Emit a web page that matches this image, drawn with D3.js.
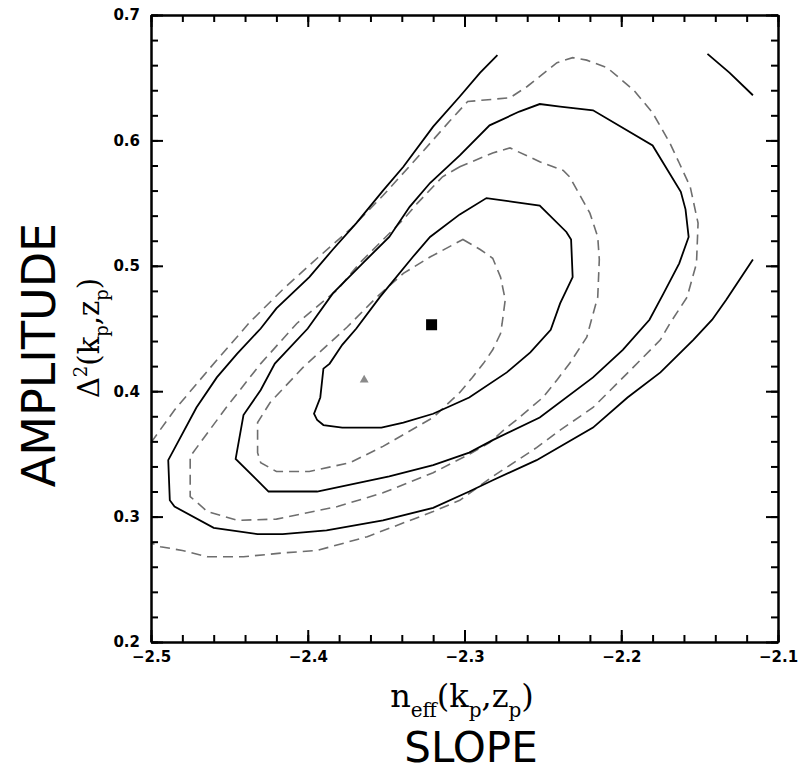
<!DOCTYPE html>
<html>
<head>
<meta charset="utf-8">
<script src="https://cdn.jsdelivr.net/npm/d3@7"></script>
<style>
  body { margin: 0; background: #fff; }
  .tick text { font-family: "DejaVu Sans", sans-serif; font-weight: bold; font-size: 15px; fill: #000; }
</style>
</head>
<body>
<div id="chart"></div>
<script>
// Chart data (slope, amplitude)
const xMajorTicks = [-2.5, -2.4, -2.3, -2.2, -2.1];
const yMajorTicks = [0.2, 0.3, 0.4, 0.5, 0.6, 0.7];

const bestFit = [-2.321, 0.453];   // black square
const altFit = [-2.364, 0.409];    // grey triangle

// solid contours
const solidInner = [
  [-2.303, 0.541], [-2.322, 0.523], [-2.333, 0.507], [-2.354, 0.475], [-2.369, 0.450],
  [-2.378, 0.437], [-2.386, 0.422], [-2.390, 0.418], [-2.392, 0.395], [-2.396, 0.382],
  [-2.394, 0.377], [-2.390, 0.373], [-2.378, 0.371], [-2.353, 0.371], [-2.339, 0.375],
  [-2.320, 0.382], [-2.297, 0.395], [-2.273, 0.415], [-2.258, 0.431], [-2.245, 0.449],
  [-2.239, 0.470], [-2.231, 0.491], [-2.232, 0.521], [-2.235, 0.527], [-2.252, 0.548],
  [-2.269, 0.551], [-2.286, 0.554]
];
const solidMiddle = [
  [-2.303, 0.588], [-2.322, 0.566], [-2.335, 0.547], [-2.348, 0.523], [-2.365, 0.502],
  [-2.384, 0.478], [-2.400, 0.450], [-2.421, 0.422], [-2.430, 0.401], [-2.441, 0.381],
  [-2.446, 0.346], [-2.425, 0.320], [-2.394, 0.320], [-2.348, 0.332], [-2.320, 0.341],
  [-2.297, 0.351], [-2.282, 0.361], [-2.252, 0.379], [-2.218, 0.411], [-2.199, 0.433],
  [-2.182, 0.457], [-2.173, 0.478], [-2.163, 0.502], [-2.157, 0.523], [-2.159, 0.545],
  [-2.162, 0.559], [-2.180, 0.596], [-2.218, 0.624], [-2.239, 0.627], [-2.252, 0.629],
  [-2.265, 0.623], [-2.284, 0.612]
];
const solidOuter = [
  [-2.279, 0.668], [-2.290, 0.654], [-2.303, 0.635], [-2.320, 0.611], [-2.339, 0.579],
  [-2.352, 0.560], [-2.369, 0.534], [-2.384, 0.513], [-2.399, 0.491], [-2.420, 0.466],
  [-2.430, 0.450], [-2.445, 0.430], [-2.458, 0.411], [-2.471, 0.387], [-2.483, 0.359],
  [-2.489, 0.345], [-2.488, 0.313], [-2.485, 0.308], [-2.460, 0.291], [-2.432, 0.286],
  [-2.416, 0.286], [-2.388, 0.289], [-2.352, 0.297], [-2.320, 0.307], [-2.297, 0.320],
  [-2.282, 0.329], [-2.254, 0.345], [-2.218, 0.371], [-2.196, 0.395], [-2.175, 0.415],
  [-2.154, 0.441], [-2.142, 0.457], [-2.133, 0.473], [-2.116, 0.505]
];
const solidCorner = [[-2.145, 0.669], [-2.131, 0.654], [-2.116, 0.636]];

// dashed contours
const dashedInner = [
  [-2.301, 0.521], [-2.290, 0.513], [-2.282, 0.506], [-2.277, 0.491], [-2.274, 0.473],
  [-2.276, 0.454], [-2.277, 0.446], [-2.282, 0.433], [-2.288, 0.422], [-2.295, 0.411],
  [-2.303, 0.399], [-2.320, 0.379], [-2.352, 0.356], [-2.373, 0.343], [-2.399, 0.336],
  [-2.420, 0.336], [-2.430, 0.343], [-2.432, 0.351], [-2.432, 0.375], [-2.424, 0.391],
  [-2.403, 0.419], [-2.375, 0.451], [-2.356, 0.475], [-2.339, 0.494], [-2.322, 0.507]
];
const dashedMiddle = [
  [-2.303, 0.579], [-2.314, 0.571], [-2.330, 0.550], [-2.339, 0.537], [-2.367, 0.502],
  [-2.381, 0.481], [-2.407, 0.454], [-2.430, 0.422], [-2.452, 0.387], [-2.475, 0.348],
  [-2.475, 0.316], [-2.464, 0.304], [-2.445, 0.297], [-2.420, 0.298], [-2.381, 0.308],
  [-2.352, 0.319], [-2.320, 0.335], [-2.298, 0.349], [-2.284, 0.359], [-2.275, 0.369],
  [-2.267, 0.377], [-2.250, 0.395], [-2.241, 0.409], [-2.233, 0.422], [-2.222, 0.443],
  [-2.219, 0.457], [-2.215, 0.475], [-2.214, 0.505], [-2.215, 0.523], [-2.220, 0.542],
  [-2.233, 0.571], [-2.237, 0.576], [-2.252, 0.583], [-2.271, 0.594], [-2.282, 0.590]
];
const dashedOuter = [
  [-2.500, 0.359], [-2.485, 0.385], [-2.462, 0.419], [-2.437, 0.455], [-2.416, 0.481],
  [-2.394, 0.506], [-2.373, 0.529], [-2.352, 0.556], [-2.326, 0.592], [-2.309, 0.616],
  [-2.298, 0.631], [-2.271, 0.634], [-2.260, 0.643], [-2.241, 0.662], [-2.231, 0.666],
  [-2.222, 0.664], [-2.209, 0.658], [-2.192, 0.640], [-2.180, 0.622], [-2.169, 0.598],
  [-2.163, 0.582], [-2.156, 0.563], [-2.151, 0.534], [-2.152, 0.502], [-2.158, 0.475],
  [-2.169, 0.454], [-2.175, 0.441], [-2.194, 0.417], [-2.218, 0.387], [-2.239, 0.369],
  [-2.254, 0.355], [-2.282, 0.332], [-2.303, 0.313], [-2.320, 0.304], [-2.362, 0.284],
  [-2.394, 0.273], [-2.416, 0.271], [-2.441, 0.268], [-2.464, 0.268], [-2.480, 0.273],
  [-2.494, 0.276], [-2.500, 0.279]
];

// svg setup
const width = 801;
const height = 771;
const plotLeft = 151, plotRight = 778, plotTop = 15, plotBottom = 642;

const svg = d3.select('#chart').append('svg')
  .attr('width', width)
  .attr('height', height);

const x = d3.scaleLinear().domain([-2.5, -2.1]).range([plotLeft, plotRight]);
const y = d3.scaleLinear().domain([0.2, 0.7]).range([plotBottom, plotTop]);

const xMinor = d3.range(-2.5, -2.09, 0.02).map(v => +v.toFixed(2));
const yMinor = d3.range(0.2, 0.701, 0.02).map(v => +v.toFixed(2));

const line = d3.line().x(d => x(d[0])).y(d => y(d[1]));
const closedLine = d3.line().x(d => x(d[0])).y(d => y(d[1])).curve(d3.curveLinearClosed);

const g = svg.append('g');

// dashed contours (grey)
[dashedInner, dashedMiddle].forEach(pts => {
  g.append('path').attr('d', closedLine(pts))
    .attr('fill', 'none').attr('stroke', '#6e6e6e')
    .attr('stroke-width', 1.6).attr('stroke-dasharray', '10,6');
});
g.append('path').attr('d', line(dashedOuter))
  .attr('fill', 'none').attr('stroke', '#6e6e6e')
  .attr('stroke-width', 1.6).attr('stroke-dasharray', '10,6');

// solid contours
[solidInner, solidMiddle].forEach(pts => {
  g.append('path').attr('d', closedLine(pts))
    .attr('fill', 'none').attr('stroke', '#000').attr('stroke-width', 1.8);
});
[solidOuter, solidCorner].forEach(pts => {
  g.append('path').attr('d', line(pts))
    .attr('fill', 'none').attr('stroke', '#000').attr('stroke-width', 1.8);
});

// markers
g.append('rect')
  .attr('x', x(bestFit[0]) - 5.5).attr('y', y(bestFit[1]) - 5.5)
  .attr('width', 11).attr('height', 11).attr('fill', '#000');
g.append('path')
  .attr('d', d3.symbol(d3.symbolTriangle).size(34)())
  .attr('transform', `translate(${x(altFit[0])},${y(altFit[1])})`)
  .attr('fill', '#8a8a8a');

// axes: major + minor ticks on all four sides, pointing inward
function styleAxis(sel) {
  sel.select('.domain').attr('stroke', '#000').attr('stroke-width', 2);
  sel.selectAll('.tick line').attr('stroke', '#000').attr('stroke-width', 2);
}
const fmt = d3.format('.1f');

svg.append('g').attr('transform', `translate(0,${plotBottom})`)
  .call(d3.axisBottom(x).tickValues(xMinor).tickSize(-7).tickSizeOuter(0).tickFormat(''))
  .call(styleAxis);
svg.append('g').attr('transform', `translate(0,${plotBottom})`)
  .call(d3.axisBottom(x).tickValues(xMajorTicks).tickSize(-12).tickSizeOuter(0).tickPadding(9).tickFormat(fmt))
  .call(styleAxis);
svg.append('g').attr('transform', `translate(0,${plotTop})`)
  .call(d3.axisTop(x).tickValues(xMinor).tickSize(-7).tickSizeOuter(0).tickFormat(''))
  .call(styleAxis);
svg.append('g').attr('transform', `translate(0,${plotTop})`)
  .call(d3.axisTop(x).tickValues(xMajorTicks).tickSize(-12).tickSizeOuter(0).tickFormat(''))
  .call(styleAxis);

svg.append('g').attr('transform', `translate(${plotLeft},0)`)
  .call(d3.axisLeft(y).tickValues(yMinor).tickSize(-7).tickSizeOuter(0).tickFormat(''))
  .call(styleAxis);
svg.append('g').attr('transform', `translate(${plotLeft},0)`)
  .call(d3.axisLeft(y).tickValues(yMajorTicks).tickSize(-12).tickSizeOuter(0).tickPadding(11).tickFormat(fmt))
  .call(styleAxis);
svg.append('g').attr('transform', `translate(${plotRight},0)`)
  .call(d3.axisRight(y).tickValues(yMinor).tickSize(-7).tickSizeOuter(0).tickFormat(''))
  .call(styleAxis);
svg.append('g').attr('transform', `translate(${plotRight},0)`)
  .call(d3.axisRight(y).tickValues(yMajorTicks).tickSize(-12).tickSizeOuter(0).tickFormat(''))
  .call(styleAxis);

// math-style axis titles with sub/superscripts
function mathText(sel, parts, size, subSize) {
  sel.attr('font-family', '"DejaVu Serif", serif').attr('font-size', size).attr('fill', '#000');
  let shift = 0;
  parts.forEach(p => {
    const want = p.sub ? size * 0.3 : p.sup ? -size * 0.4 : 0;
    sel.append('tspan')
      .attr('dy', want - shift)
      .attr('font-size', p.sub || p.sup ? subSize : size)
      .text(p.t);
    shift = want;
  });
}

const xTitle = svg.append('text')
  .attr('x', 462).attr('y', 707).attr('text-anchor', 'middle');
mathText(xTitle, [
  {t: 'n'}, {t: 'eff', sub: true}, {t: '(k'}, {t: 'p', sub: true},
  {t: ',z'}, {t: 'p', sub: true}, {t: ')'}
], 32, 20);

const yTitle = svg.append('text')
  .attr('text-anchor', 'middle')
  .attr('transform', 'translate(99,338) rotate(-90)');
mathText(yTitle, [
  {t: '\u0394'}, {t: '2', sup: true}, {t: '(k'}, {t: 'p', sub: true},
  {t: ',z'}, {t: 'p', sub: true}, {t: ')'}
], 29, 18);

// plain-language titles
svg.append('text')
  .attr('x', 471).attr('y', 762).attr('text-anchor', 'middle')
  .attr('font-family', '"DejaVu Sans", sans-serif').attr('font-size', 42)
  .text('SLOPE');

svg.append('text')
  .attr('text-anchor', 'middle')
  .attr('transform', 'translate(55,355) rotate(-90)')
  .attr('font-family', '"DejaVu Sans", sans-serif').attr('font-size', 46)
  .text('AMPLITUDE');
</script>
</body>
</html>
